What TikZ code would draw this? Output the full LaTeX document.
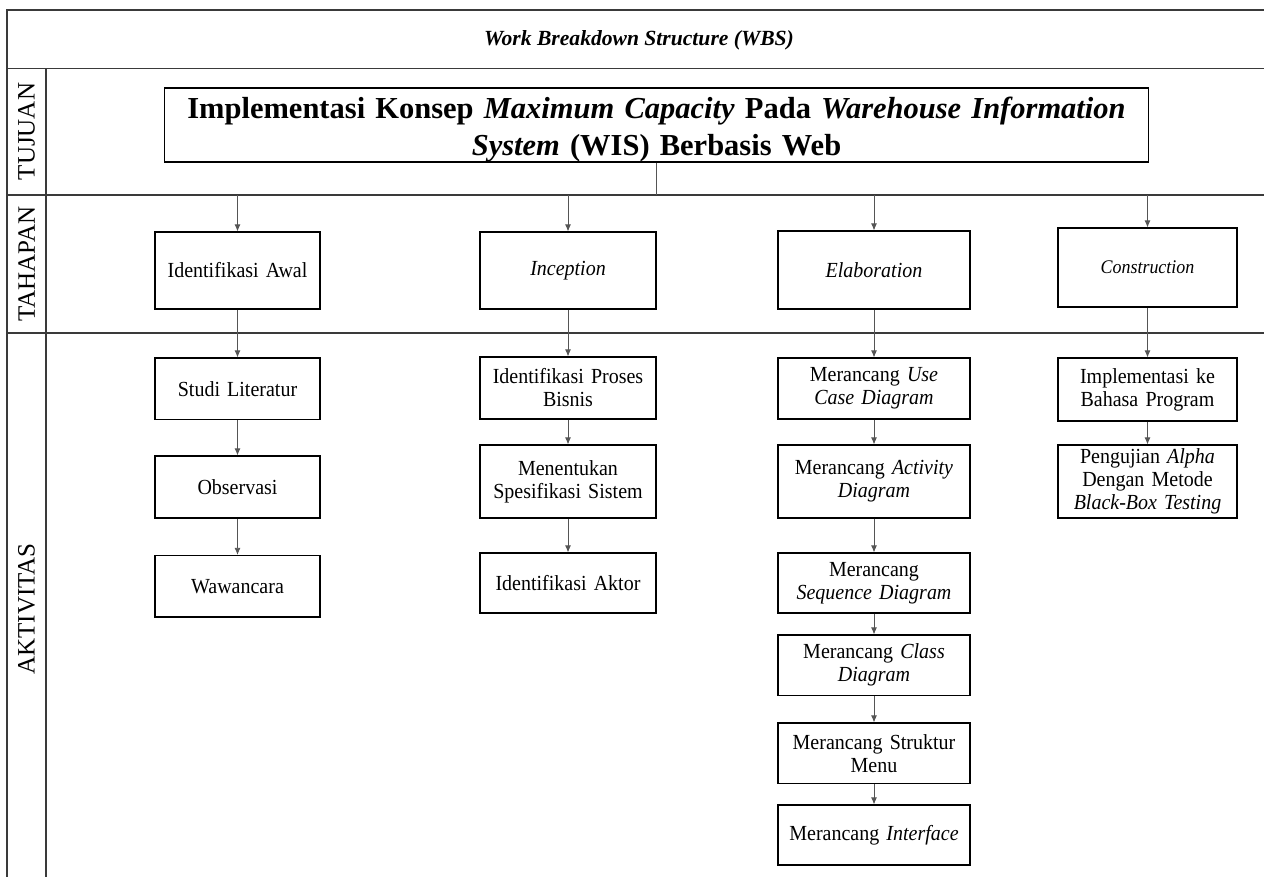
\documentclass[tikz,border=0pt]{standalone}
\usepackage{fontspec}
\setmainfont{Liberation Serif}
\newfontfamily\boxfont{Liberation Serif}[FakeStretch=0.93]
\usetikzlibrary{arrows.meta}
\definecolor{framec}{HTML}{3A3A3A}
\definecolor{arrc}{HTML}{555555}
\tikzset{
  frameline/.style={draw=framec, line width=1.4pt},
  box/.style={draw=black, line width=1.2pt, inner sep=2pt, align=center,
    font=\boxfont\fontsize{21.5}{23}\selectfont},
  arr/.style={draw=arrc, line width=0.8pt, -{Latex[length=7pt,width=6pt]}},
  conn/.style={draw=arrc, line width=0.8pt},
  rowlabel/.style={rotate=90, font=\fontsize{25}{25}\selectfont, inner sep=0pt},
}
\begin{document}
\begin{tikzpicture}[x=1pt,y=-1pt]
\useasboundingbox (0,0) rectangle (1264,877);
% frame
\draw[frameline] (7,877) -- (7,10) -- (1264,10);
\draw[frameline] (7,68.5) -- (1264,68.5);
\draw[frameline] (7,195) -- (1264,195);
\draw[frameline] (7,333) -- (1264,333);
\draw[frameline] (46,68.5) -- (46,877);
% title
\node[font=\fontsize{21.6}{24}\selectfont\bfseries\itshape] (title) at (639,40) {Work Breakdown Structure (WBS)};
% row labels
\node[rowlabel] (ltujuan) at (26.5,131.5) {TUJUAN};
\node[rowlabel] (ltahapan) at (26.5,264) {TAHAPAN};
\node[rowlabel] (laktivitas) at (26.5,609) {AKTIVITAS};
% goal
\node[draw=black, line width=1.2pt, minimum width=984pt, minimum height=74pt, inner sep=0pt] (goal) at (656.5,125) {};
\node[text width=976pt, inner sep=0pt, align=center,
  font=\fontsize{30.5}{37}\selectfont\bfseries] (goaltext) at (656.5,130)
  {Implementasi Konsep \textit{Maximum Capacity} Pada \textit{Warehouse Information}\\\textit{System} (WIS) Berbasis Web};
% tahapan
\node[box, minimum width=165pt, minimum height=77pt, text width=157pt] (t1) at (237.5,270.5) {Identifikasi Awal};
\node[box, minimum width=176pt, minimum height=77pt, text width=168pt] (t2) at (568,270.5) {\textit{Inception}};
\node[box, minimum width=192pt, minimum height=78pt, text width=184pt] (t3) at (874,270) {\textit{Elaboration}};
\node[box, minimum width=179pt, minimum height=79pt, text width=171pt, font=\boxfont\fontsize{19.3}{22}\selectfont] (t4) at (1147.5,267.5) {\textit{Construction}};
% aktivitas col 1
\node[box, minimum width=165pt, minimum height=61.5pt, text width=157pt] (a11) at (237.5,388.75) {Studi Literatur};
\node[box, minimum width=165pt, minimum height=62pt, text width=157pt] (a12) at (237.5,487) {Observasi};
\node[box, minimum width=165pt, minimum height=61.5pt, text width=157pt] (a13) at (237.5,586.25) {Wawancara};
% col 2
\node[box, minimum width=176pt, minimum height=62pt, text width=168pt] (a21) at (568,388) {Identifikasi Proses\\Bisnis};
\node[box, minimum width=176pt, minimum height=73pt, text width=168pt] (a22) at (568,481.5) {Menentukan\\Spesifikasi Sistem};
\node[box, minimum width=176pt, minimum height=60pt, text width=168pt] (a23) at (568,583) {Identifikasi Aktor};
% col 3
\node[box, minimum width=192pt, minimum height=61pt, text width=184pt] (a31) at (874,388.5) {Merancang \textit{Use}\\\textit{Case Diagram}};
\node[box, minimum width=192pt, minimum height=73pt, text width=184pt] (a32) at (874,481.5) {Merancang \textit{Activity}\\\textit{Diagram}};
\node[box, minimum width=192pt, minimum height=60pt, text width=184pt] (a33) at (874,583) {Merancang\\\textit{Sequence Diagram}};
\node[box, minimum width=192pt, minimum height=60.5pt, text width=184pt] (a34) at (874,665.25) {Merancang \textit{Class}\\\textit{Diagram}};
\node[box, minimum width=192pt, minimum height=60.6pt, text width=184pt] (a35) at (874,753.3) {Merancang Struktur\\Menu};
\node[box, minimum width=192pt, minimum height=60pt, text width=184pt] (a36) at (874,835) {Merancang \textit{Interface}};
% col 4
\node[box, minimum width=179pt, minimum height=63pt, text width=171pt] (a41) at (1147.5,389.5) {Implementasi ke\\Bahasa Program};
\node[box, minimum width=179pt, minimum height=73pt, text width=171pt] (a42) at (1147.5,481.5) {Pengujian \textit{Alpha}\\Dengan Metode\\\textit{Black-Box Testing}};
% bus coordinates
\coordinate (bg) at (goal.south |- 0,195);
\coordinate (b1) at (t1.north |- 0,195);
\coordinate (b2) at (t2.north |- 0,195);
\coordinate (b3) at (t3.north |- 0,195);
\coordinate (b4) at (t4.north |- 0,195);
% connectors
\draw[conn] (goal.south) -- (bg);
\draw[arr] (b1) -- (t1.north);
\draw[arr] (b2) -- (t2.north);
\draw[arr] (b3) -- (t3.north);
\draw[arr] (b4) -- (t4.north);
\draw[arr] (t1.south) -- (a11.north);
\draw[arr] (a11.south) -- (a12.north);
\draw[arr] (a12.south) -- (a13.north);
\draw[arr] (t2.south) -- (a21.north);
\draw[arr] (a21.south) -- (a22.north);
\draw[arr] (a22.south) -- (a23.north);
\draw[arr] (t3.south) -- (a31.north);
\draw[arr] (a31.south) -- (a32.north);
\draw[arr] (a32.south) -- (a33.north);
\draw[arr] (a33.south) -- (a34.north);
\draw[arr] (a34.south) -- (a35.north);
\draw[arr] (a35.south) -- (a36.north);
\draw[arr] (t4.south) -- (a41.north);
\draw[arr] (a41.south) -- (a42.north);
\end{tikzpicture}
\end{document}
